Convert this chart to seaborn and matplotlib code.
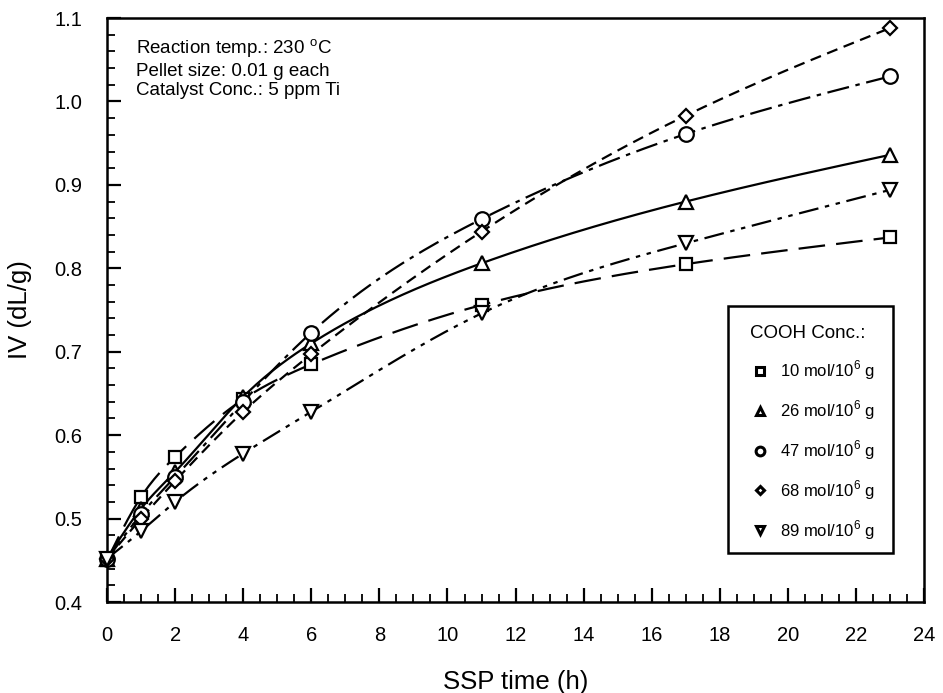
import numpy as np
import pandas as pd
import matplotlib
matplotlib.use("Agg")
import matplotlib.pyplot as plt
import seaborn as sns
from matplotlib.lines import Line2D
from matplotlib.patches import Rectangle

sns.set_theme(style="white")
plt.rcParams['font.family'] = ['Liberation Sans', 'DejaVu Sans']
plt.rcParams['mathtext.fontset'] = 'custom'
plt.rcParams['mathtext.rm'] = 'Liberation Sans'
plt.rcParams['text.color'] = 'black'
plt.rcParams['axes.labelcolor'] = 'black'

time_h = [0, 1, 2, 4, 6, 11, 17, 23]
iv_10 = [0.450, 0.526, 0.574, 0.643, 0.685, 0.756, 0.805, 0.837]
iv_26 = [0.452, 0.512, 0.556, 0.646, 0.710, 0.806, 0.880, 0.936]
iv_47 = [0.451, 0.505, 0.550, 0.640, 0.723, 0.859, 0.961, 1.030]
iv_68 = [0.452, 0.500, 0.545, 0.628, 0.697, 0.844, 0.983, 1.088]
iv_89 = [0.452, 0.485, 0.520, 0.578, 0.628, 0.746, 0.830, 0.894]
labels = ["10 mol/10$^{\\mathrm{6}}$ g", "26 mol/10$^{\\mathrm{6}}$ g",
          "47 mol/10$^{\\mathrm{6}}$ g", "68 mol/10$^{\\mathrm{6}}$ g",
          "89 mol/10$^{\\mathrm{6}}$ g"]
series = [iv_10, iv_26, iv_47, iv_68, iv_89]
markers = ["s", "^", "o", "D", "v"]
msizes = [8.5, 9.5, 10.5, 7.5, 9.5]
linestyles = [(0, (12, 5)), "-", (0, (10, 3, 2, 3)), (0, (5, 3)),
              (0, (9, 3, 2, 3, 2, 3))]


def natural_spline(x, y, n=300):
    x = np.asarray(x, float); y = np.asarray(y, float)
    k = len(x); h = np.diff(x)
    A = np.zeros((k, k)); b = np.zeros(k)
    A[0, 0] = A[-1, -1] = 1
    for i in range(1, k - 1):
        A[i, i - 1] = h[i - 1]; A[i, i] = 2 * (h[i - 1] + h[i]); A[i, i + 1] = h[i]
        b[i] = 3 * ((y[i + 1] - y[i]) / h[i] - (y[i] - y[i - 1]) / h[i - 1])
    c = np.linalg.solve(A, b)
    xs = np.linspace(x[0], x[-1], n); ys = np.empty_like(xs)
    for j, xv in enumerate(xs):
        i = min(np.searchsorted(x, xv, side='right') - 1, k - 2)
        bi = (y[i + 1] - y[i]) / h[i] - h[i] * (2 * c[i] + c[i + 1]) / 3
        di = (c[i + 1] - c[i]) / (3 * h[i])
        dx = xv - x[i]
        ys[j] = y[i] + bi * dx + c[i] * dx ** 2 + di * dx ** 3
    return xs, ys


fig = plt.figure(figsize=(9.43, 6.93), dpi=100)
ax = fig.add_axes([0.1135, 0.1313, 0.8665, 0.8427])

for vals, mk, ms, ls in zip(series, markers, msizes, linestyles):
    xs, ys = natural_spline(time_h, vals)
    sns.lineplot(x=xs, y=ys, ax=ax, color="black", lw=1.6, linestyle=ls, sort=False)
    ax.plot(time_h, vals, linestyle="none", marker=mk, ms=ms, mfc="white",
            mec="black", mew=1.6, zorder=3, clip_on=False)

ax.set_xlim(0, 24)
ax.set_ylim(0.4, 1.1)
ax.set_xticks(np.arange(0, 25, 2))
ax.set_xticks(np.arange(0, 24.01, 0.5), minor=True)
ax.set_yticks(np.round(np.arange(0.4, 1.11, 0.1), 1))
ax.set_yticks(np.arange(0.4, 1.1001, 0.02), minor=True)
ax.tick_params(axis='both', which='both', direction='in', top=False, right=False,
               bottom=True, left=True, labelsize=14.5, colors='black')
ax.tick_params(which='major', length=10, width=1.6)
ax.tick_params(axis='x', which='major', pad=17)
ax.tick_params(axis='y', which='major', pad=18)
ax.tick_params(which='minor', length=6, width=1.3)
ax.yaxis.set_major_formatter(matplotlib.ticker.FormatStrFormatter('%.1f'))
for s in ax.spines.values():
    s.set_color('black'); s.set_linewidth(1.8)

ax.set_xlabel("SSP time (h)", fontsize=18.5, labelpad=18)
ax.set_ylabel("IV (dL/g)", fontsize=18.5, labelpad=16)

ax.text(0.036, 0.967,
        "Reaction temp.: 230 $^{\\mathrm{o}}$C\nPellet size: 0.01 g each\nCatalyst Conc.: 5 ppm Ti",
        transform=ax.transAxes, fontsize=13.5, va='top', ha='left', linespacing=1.2)

# legend box
ax.add_patch(Rectangle((0.760, 0.084), 0.202, 0.423, transform=ax.transAxes,
                       facecolor='white', edgecolor='black', lw=1.8, zorder=4))

handles = [Line2D([], [], linestyle='none', marker=mk, ms=ms * 0.6, mfc='white',
                  mec='black', mew=2.2) for mk, ms in zip(markers, msizes)]
leg = ax.legend(handles, labels, title="COOH Conc.:", loc='upper left',
                bbox_to_anchor=(0.787, 0.474), borderaxespad=0, frameon=False,
                fontsize=12, title_fontsize=13.5,
                handletextpad=0.6, labelspacing=0.98, borderpad=0,
                handlelength=1.2)
leg.set_zorder(5)
leg._legend_box.align = "left"

fig.savefig("out.png", dpi=100, facecolor="white")
